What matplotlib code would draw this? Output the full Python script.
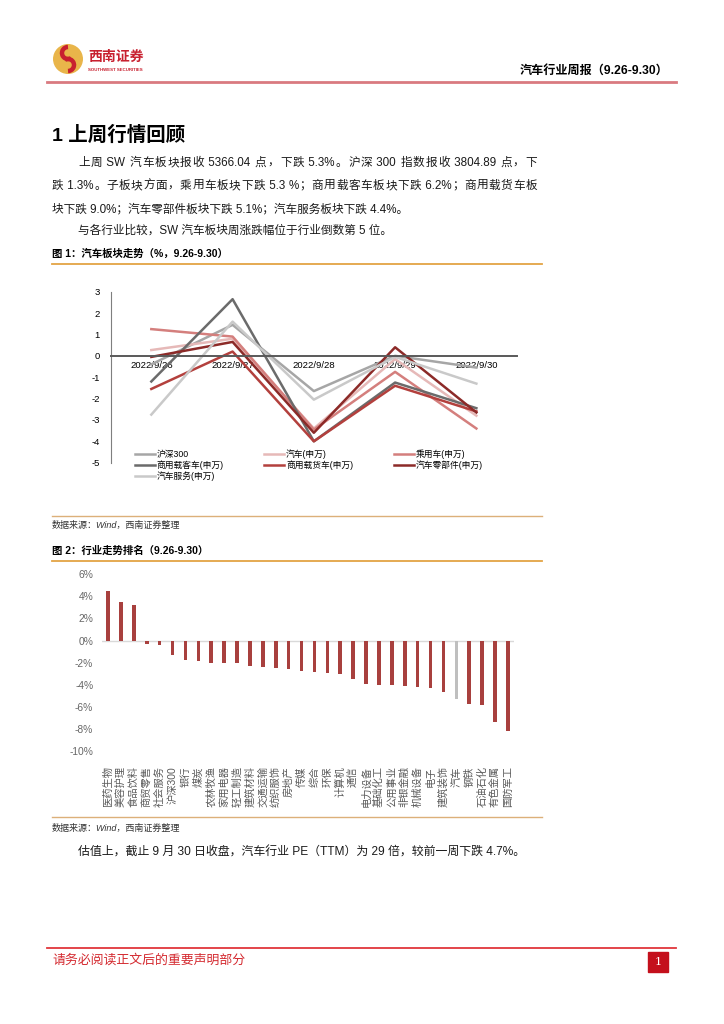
import re
import numpy as np
import matplotlib.pyplot as plt
from matplotlib.lines import Line2D
from matplotlib.patches import Circle, Arc, Rectangle

plt.rcParams['font.family'] = ['Liberation Sans', 'Noto Sans CJK SC']
plt.rcParams['axes.unicode_minus'] = False

W, H = 724, 1024

# figure 1: daily change of the auto sub-sectors (%)
dates = ['2022/9/26', '2022/9/27', '2022/9/28', '2022/9/29', '2022/9/30']
hs300 = [-0.4, 1.45, -1.65, 0.0, -0.55]
auto = [0.27, 0.8, -3.4, -0.15, -2.8]
car = [1.25, 0.9, -3.45, -0.75, -3.4]
bus = [-1.2, 2.65, -4.0, -1.25, -2.45]
truck = [-1.55, 0.2, -4.0, -1.4, -2.6]
parts = [-0.05, 0.65, -3.6, 0.4, -2.65]
service = [-2.75, 1.6, -2.05, -0.05, -1.3]
series_names = ['沪深300', '汽车(申万)', '乘用车(申万)', '商用载客车(申万)',
                '商用载货车(申万)', '汽车零部件(申万)', '汽车服务(申万)']

# figure 2: weekly change by industry (%)
industries = ['医药生物', '美容护理', '食品饮料', '商贸零售', '社会服务', '沪深300',
              '银行', '煤炭', '农林牧渔', '家用电器', '轻工制造', '建筑材料',
              '交通运输', '纺织服饰', '房地产', '传媒', '综合', '环保', '计算机',
              '通信', '电力设备', '基础化工', '公用事业', '非银金融', '机械设备',
              '电子', '建筑装饰', '汽车', '钢铁', '石油石化', '有色金属', '国防军工']
weekly = [4.47, 3.5, 3.23, -0.3, -0.43, -1.34, -1.77, -1.89, -2.0, -2.07, -2.07,
          -2.28, -2.43, -2.49, -2.55, -2.74, -2.86, -2.98, -3.04, -3.44, -3.93,
          -3.99, -4.05, -4.08, -4.17, -4.29, -4.69, -5.3, -5.75, -5.88, -7.37, -8.16]

fig = plt.figure(figsize=(W / 100, H / 100), dpi=100)


def box(l, t, r, b):
    return [l / W, 1 - b / H, (r - l) / W, (b - t) / H]


def put(x, y, s, **kw):
    kw.setdefault('va', 'center')
    return fig.text(x / W, 1 - y / H, s, **kw)


def hline(x0, x1, y, color, lw):
    fig.add_artist(Line2D([x0 / W, x1 / W], [1 - y / H] * 2, color=color,
                          lw=lw, transform=fig.transFigure))


def justify(x0, x1, y, s, size):
    # spread the pieces of one line evenly between x0 and x1
    r = fig.canvas.get_renderer()
    units = re.findall(r' ?[A-Za-z0-9.%]+ ?|.', s)
    ts = [put(x0, y, u, fontsize=size, color='#1a1a1a') for u in units]
    ws = [t.get_window_extent(r).width for t in ts]
    gap = (x1 - x0 - sum(ws)) / (len(units) - 1)
    x = x0
    for t, w in zip(ts, ws):
        t.set_x(x / W)
        x += w + gap


# header
logo = fig.add_axes(box(53, 44, 83, 74))
logo.set_xlim(-1.05, 1.05)
logo.set_ylim(-1.05, 1.05)
logo.set_aspect('equal')
logo.axis('off')
logo.add_patch(Circle((0, 0), 1, color='#e9b54a'))
logo.add_patch(Arc((0, 0.42), 0.84, 0.84, theta1=90, theta2=300, color='#c8202f', lw=3.2))
logo.add_patch(Arc((0, -0.42), 0.84, 0.84, theta1=-90, theta2=120, color='#c8202f', lw=3.2))
put(88, 57, '西南证券', fontsize=10, fontweight='bold', color='#c8202f')
put(88, 70, 'SOUTHWEST SECURITIES', fontsize=3.2, fontweight='bold', color='#c8202f')
put(668, 71, '汽车行业周报（9.26-9.30）', fontsize=8.7, fontweight='bold', ha='right')
hline(47, 676, 82, '#d97a80', 2)

# section text
put(52, 135, '1 上周行情回顾', fontsize=14, fontweight='bold')
body = 8.4
justify(78, 537, 163, '上周 SW 汽车板块报收 5366.04 点，下跌 5.3%。沪深 300 指数报收 3804.89 点，下', body)
justify(52, 537, 186, '跌 1.3%。子板块方面，乘用车板块下跌 5.3 %；商用载客车板块下跌 6.2%；商用载货车板', body)
put(52, 209, '块下跌 9.0%；汽车零部件板块下跌 5.1%；汽车服务板块下跌 4.4%。', fontsize=body, color='#1a1a1a')
put(78, 231, '与各行业比较，SW 汽车板块周涨跌幅位于行业倒数第 5 位。', fontsize=body, color='#1a1a1a')

# figure 1
put(52, 254, '图 1：汽车板块走势（%，9.26-9.30）', fontsize=7.5, fontweight='bold')
hline(52, 542, 264, '#e3a444', 1.3)

ax1 = fig.add_axes(box(110.7, 291.7, 517, 462.7))
x = np.arange(len(dates)) + 0.5
colors1 = ['#a6a6a6', '#e6b9b8', '#d47f7d', '#6b6b6b', '#b3403d', '#8c2a28', '#c9c9c9']
lines = []
for vals, c, name in zip([hs300, auto, car, bus, truck, parts, service], colors1, series_names):
    ln, = ax1.plot(x, vals, color=c, lw=1.8, label=name)
    lines.append(ln)
ax1.set_xlim(0, len(dates))
ax1.set_ylim(-5, 3)
ax1.set_yticks(range(-5, 4))
ax1.set_xticks(x)
ax1.set_xticklabels(dates)
ax1.spines['bottom'].set_position(('data', 0))
ax1.spines['bottom'].set_color('#595959')
ax1.spines['bottom'].set_linewidth(1.4)
ax1.spines['left'].set_color('#7f7f7f')
ax1.spines['top'].set_visible(False)
ax1.spines['right'].set_visible(False)
ax1.tick_params(axis='x', length=0, pad=4, labelsize=6.8)
ax1.tick_params(axis='y', length=0, pad=8, labelsize=6.8)
ax1.patch.set_alpha(0)
order = [0, 3, 6, 1, 4, 2, 5]
ax1.legend([lines[i] for i in order], [series_names[i] for i in order], ncol=3,
           loc='upper left', bbox_to_anchor=(135 / W, 1 - 449 / H),
           bbox_transform=fig.transFigure, frameon=False, fontsize=6.3,
           handlelength=2.3, handletextpad=0.2, columnspacing=4.6,
           labelspacing=0.15, borderpad=0, borderaxespad=0)

hline(52, 542, 516, '#dcb07a', 1)
put(52, 525, '数据来源：Wind，西南证券整理', fontsize=6.5, style='italic', color='#333333')

# figure 2
put(52, 551, '图 2：行业走势排名（9.26-9.30）', fontsize=7.5, fontweight='bold')
hline(52, 542, 561, '#e3a444', 1.3)

ax2 = fig.add_axes(box(101.6, 574.3, 514.4, 751))
pos = np.arange(len(industries))
bar_colors = ['#bfbfbf' if n == '汽车' else '#a8403e' for n in industries]
ax2.bar(pos, weekly, width=0.28, color=bar_colors)
ax2.axhline(0, color='#d9d9d9', lw=1, zorder=0)
ax2.set_xlim(-0.5, len(industries) - 0.5)
ax2.set_ylim(-10, 6)
ax2.set_yticks(range(-10, 7, 2))
ax2.set_yticklabels([f'{v}%' for v in range(-10, 7, 2)])
ax2.set_xticks(pos)
ax2.set_xticklabels(industries, rotation=90)
for s in ax2.spines.values():
    s.set_visible(False)
ax2.tick_params(axis='x', length=0, pad=11, labelsize=7.4, labelcolor='#595959')
ax2.tick_params(axis='y', length=0, pad=6, labelsize=7.4, labelcolor='#666666')
ax2.patch.set_alpha(0)

hline(52, 542, 817, '#dcb07a', 1)
put(52, 828, '数据来源：Wind，西南证券整理', fontsize=6.5, style='italic', color='#333333')

put(78, 853, '估值上，截止 9 月 30 日收盘，汽车行业 PE（TTM）为 29 倍，较前一周下跌 4.7%。',
    fontsize=8.6, color='#1a1a1a')

# footer
hline(47, 676, 948, '#e0363c', 1.3)
put(52, 960, '请务必阅读正文后的重要声明部分', fontsize=9.3, color='#d42a30')
fig.add_artist(Rectangle((648 / W, 1 - 972 / H), 20 / W, 20 / H, color='#c4101c',
                         transform=fig.transFigure))
put(658, 962, '1', fontsize=8, color='white', ha='center', family='DejaVu Serif')

fig.savefig('out.png', dpi=100)
